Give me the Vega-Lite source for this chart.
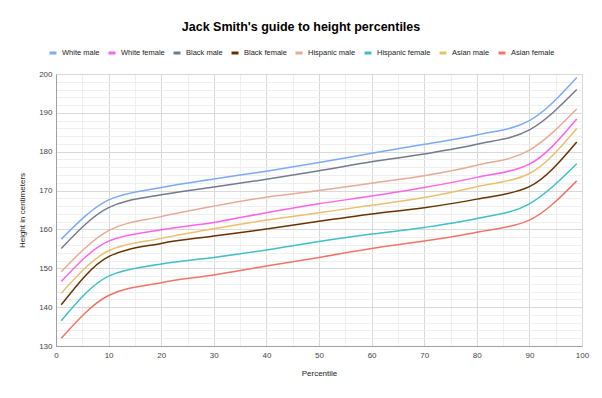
{
  "$schema": "https://vega.github.io/schema/vega-lite/v6.json",
  "autosize": "none",
  "width": 526,
  "height": 272,
  "padding": {"left": 56, "top": 74, "right": 20, "bottom": 52},
  "background": "white",
  "title": {
    "text": "Jack Smith's guide to height percentiles",
    "font": "Liberation Sans",
    "fontSize": 12.5,
    "fontWeight": "bold",
    "color": "#000000",
    "anchor": "middle",
    "dx": -18,
    "offset": 15
  },
  "config": {
    "view": {"stroke": null},
    "font": "Liberation Sans"
  },
  "data": {
    "values": [
      {"p": 1, "g": "White male", "h": 157.5},
      {"p": 10, "g": "White male", "h": 167.6},
      {"p": 20, "g": "White male", "h": 170.8},
      {"p": 30, "g": "White male", "h": 173.0},
      {"p": 40, "g": "White male", "h": 175.0},
      {"p": 50, "g": "White male", "h": 177.2},
      {"p": 60, "g": "White male", "h": 179.6},
      {"p": 70, "g": "White male", "h": 181.9},
      {"p": 80, "g": "White male", "h": 184.3},
      {"p": 90, "g": "White male", "h": 188.0},
      {"p": 99, "g": "White male", "h": 199.1},

      {"p": 1, "g": "White female", "h": 146.6},
      {"p": 10, "g": "White female", "h": 157.0},
      {"p": 20, "g": "White female", "h": 159.9},
      {"p": 30, "g": "White female", "h": 161.8},
      {"p": 40, "g": "White female", "h": 164.3},
      {"p": 50, "g": "White female", "h": 166.6},
      {"p": 60, "g": "White female", "h": 168.6},
      {"p": 70, "g": "White female", "h": 170.8},
      {"p": 80, "g": "White female", "h": 173.4},
      {"p": 90, "g": "White female", "h": 176.8},
      {"p": 99, "g": "White female", "h": 188.4},

      {"p": 1, "g": "Black male", "h": 155.1},
      {"p": 10, "g": "Black male", "h": 165.6},
      {"p": 20, "g": "Black male", "h": 168.9},
      {"p": 30, "g": "Black male", "h": 170.9},
      {"p": 40, "g": "Black male", "h": 172.9},
      {"p": 50, "g": "Black male", "h": 175.1},
      {"p": 60, "g": "Black male", "h": 177.4},
      {"p": 70, "g": "Black male", "h": 179.4},
      {"p": 80, "g": "Black male", "h": 181.9},
      {"p": 90, "g": "Black male", "h": 185.6},
      {"p": 99, "g": "Black male", "h": 196.0},

      {"p": 1, "g": "Black female", "h": 140.6},
      {"p": 10, "g": "Black female", "h": 153.0},
      {"p": 20, "g": "Black female", "h": 156.4},
      {"p": 30, "g": "Black female", "h": 158.3},
      {"p": 40, "g": "Black female", "h": 160.1},
      {"p": 50, "g": "Black female", "h": 162.1},
      {"p": 60, "g": "Black female", "h": 164.0},
      {"p": 70, "g": "Black female", "h": 165.6},
      {"p": 80, "g": "Black female", "h": 167.8},
      {"p": 90, "g": "Black female", "h": 171.0},
      {"p": 99, "g": "Black female", "h": 182.5},

      {"p": 1, "g": "Hispanic male", "h": 149.1},
      {"p": 10, "g": "Hispanic male", "h": 159.7},
      {"p": 20, "g": "Hispanic male", "h": 163.3},
      {"p": 30, "g": "Hispanic male", "h": 166.0},
      {"p": 40, "g": "Hispanic male", "h": 168.3},
      {"p": 50, "g": "Hispanic male", "h": 170.0},
      {"p": 60, "g": "Hispanic male", "h": 171.9},
      {"p": 70, "g": "Hispanic male", "h": 173.8},
      {"p": 80, "g": "Hispanic male", "h": 176.5},
      {"p": 90, "g": "Hispanic male", "h": 180.4},
      {"p": 99, "g": "Hispanic male", "h": 191.0},

      {"p": 1, "g": "Hispanic female", "h": 136.5},
      {"p": 10, "g": "Hispanic female", "h": 148.0},
      {"p": 20, "g": "Hispanic female", "h": 151.1},
      {"p": 30, "g": "Hispanic female", "h": 152.8},
      {"p": 40, "g": "Hispanic female", "h": 154.7},
      {"p": 50, "g": "Hispanic female", "h": 156.9},
      {"p": 60, "g": "Hispanic female", "h": 158.8},
      {"p": 70, "g": "Hispanic female", "h": 160.5},
      {"p": 80, "g": "Hispanic female", "h": 162.8},
      {"p": 90, "g": "Hispanic female", "h": 166.6},
      {"p": 99, "g": "Hispanic female", "h": 176.9},

      {"p": 1, "g": "Asian male", "h": 143.6},
      {"p": 10, "g": "Asian male", "h": 154.5},
      {"p": 20, "g": "Asian male", "h": 157.7},
      {"p": 30, "g": "Asian male", "h": 160.2},
      {"p": 40, "g": "Asian male", "h": 162.4},
      {"p": 50, "g": "Asian male", "h": 164.3},
      {"p": 60, "g": "Asian male", "h": 166.2},
      {"p": 70, "g": "Asian male", "h": 168.2},
      {"p": 80, "g": "Asian male", "h": 171.0},
      {"p": 90, "g": "Asian male", "h": 174.4},
      {"p": 99, "g": "Asian male", "h": 186.0},

      {"p": 1, "g": "Asian female", "h": 132.0},
      {"p": 10, "g": "Asian female", "h": 143.0},
      {"p": 20, "g": "Asian female", "h": 146.3},
      {"p": 30, "g": "Asian female", "h": 148.3},
      {"p": 40, "g": "Asian female", "h": 150.6},
      {"p": 50, "g": "Asian female", "h": 152.8},
      {"p": 60, "g": "Asian female", "h": 155.1},
      {"p": 70, "g": "Asian female", "h": 157.0},
      {"p": 80, "g": "Asian female", "h": 159.3},
      {"p": 90, "g": "Asian female", "h": 162.4},
      {"p": 99, "g": "Asian female", "h": 172.5}
    ]
  },
  "mark": {"type": "line", "interpolate": "monotone", "strokeWidth": 1.5},
  "encoding": {
    "x": {
      "field": "p",
      "type": "quantitative",
      "scale": {"domain": [0, 100], "nice": false},
      "axis": {
        "title": "Percentile",
        "titleFont": "Liberation Sans",
        "titleFontSize": 8,
        "titleFontWeight": "normal",
        "titleColor": "#222222",
        "titlePadding": 10,
        "values": [0, 5, 10, 15, 20, 25, 30, 35, 40, 45, 50, 55, 60, 65, 70, 75, 80, 85, 90, 95, 100],
        "labelExpr": "datum.value % 10 === 0 ? datum.label : ''",
        "labelFont": "Liberation Sans",
        "labelFontSize": 8,
        "labelColor": "#444444",
        "labelPadding": 5,
        "labelFlush": false,
        "ticks": false,
        "domainColor": "#a0a0a0",
        "domainWidth": 1,
        "grid": true,
        "gridColor": {"condition": {"test": "datum.value % 10 === 0", "value": "#d9d9d9"}, "value": "#efefef"},
        "gridWidth": 1
      }
    },
    "y": {
      "field": "h",
      "type": "quantitative",
      "scale": {"domain": [130, 200], "nice": false, "zero": false},
      "axis": {
        "title": "Height in centimeters",
        "titleFont": "Liberation Sans",
        "titleFontSize": 8,
        "titleFontWeight": "normal",
        "titleColor": "#222222",
        "titlePadding": 12,
        "values": [130, 132, 134, 136, 138, 140, 142, 144, 146, 148, 150, 152, 154, 156, 158, 160, 162, 164, 166, 168, 170, 172, 174, 176, 178, 180, 182, 184, 186, 188, 190, 192, 194, 196, 198, 200],
        "labelExpr": "datum.value % 10 === 0 ? datum.label : ''",
        "labelFont": "Liberation Sans",
        "labelFontSize": 8,
        "labelColor": "#444444",
        "labelPadding": 4,
        "labelFlush": false,
        "ticks": false,
        "domainColor": "#a0a0a0",
        "domainWidth": 1,
        "grid": true,
        "gridColor": {"condition": {"test": "datum.value % 10 === 0", "value": "#d9d9d9"}, "value": "#efefef"},
        "gridWidth": 1
      }
    },
    "color": {
      "field": "g",
      "type": "nominal",
      "sort": ["White male", "White female", "Black male", "Black female", "Hispanic male", "Hispanic female", "Asian male", "Asian female"],
      "scale": {
        "domain": ["White male", "White female", "Black male", "Black female", "Hispanic male", "Hispanic female", "Asian male", "Asian female"],
        "range": ["#7baaf7", "#ff63e6", "#757a8c", "#663300", "#e6ab96", "#3fbfc9", "#e8c070", "#f07468"]
      },
      "legend": {
        "title": null,
        "orient": "none",
        "direction": "horizontal",
        "legendX": -8,
        "legendY": -26,
        "symbolType": "stroke",
        "symbolStrokeWidth": 3,
        "symbolSize": 49,
        "labelFont": "Liberation Sans",
        "labelFontSize": 7.5,
        "labelColor": "#222222",
        "labelOffset": 4,
        "columnPadding": 2,
        "columns": 8
      }
    }
  }
}
